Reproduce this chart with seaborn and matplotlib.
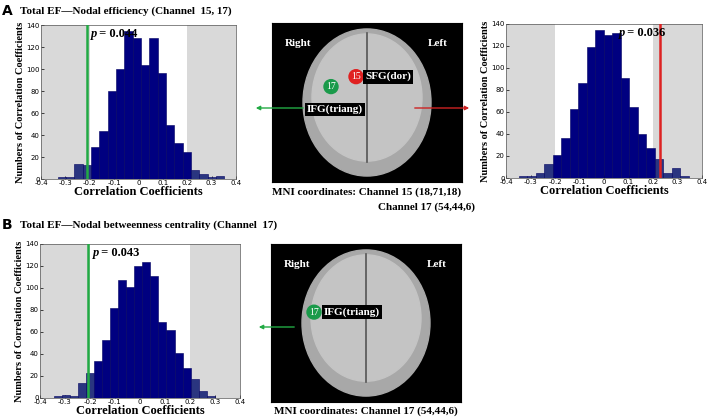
import matplotlib
matplotlib.use("Agg")
import matplotlib.pyplot as plt
import seaborn as sns
import numpy as np
import pandas as pd
from matplotlib.patches import Ellipse, Circle, FancyArrowPatch

# data
a1_start, a1_width = -0.332, 0.0342
a1_counts = [2, 2, 14, 13, 29, 44, 80, 100, 135, 128, 104, 128, 96, 49, 33, 25, 8, 5, 2, 3]
a1_line, a1_p = -0.21, "0.044"
a2_start, a2_width = -0.347, 0.0346
a2_counts = [2, 2, 5, 13, 21, 36, 63, 86, 119, 135, 130, 132, 91, 65, 40, 27, 17, 5, 9, 2]
a2_line, a2_p = 0.228, "0.036"
b_start, b_width = -0.345, 0.0322
b_counts = [2, 3, 2, 14, 23, 34, 53, 82, 107, 101, 120, 124, 111, 69, 62, 41, 27, 17, 6, 2]
b_line, b_p = -0.21, "0.043"
xticks = [-0.4, -0.3, -0.2, -0.1, 0, 0.1, 0.2, 0.3, 0.4]
yticks = [0, 20, 40, 60, 80, 100, 120, 140]

serif = "Liberation Serif"
W, H = 708, 420
fig = plt.figure(figsize=(7.08, 4.2), dpi=100)

def ax_px(x0, y0, x1, y1):
    return fig.add_axes([x0 / W, 1 - y1 / H, (x1 - x0) / W, (y1 - y0) / H])

def hist(ax, start, width, counts, line, lcolor, p, ptext_x):
    n = len(counts)
    edges = start + width * np.arange(n + 1)
    centers = (edges[:-1] + edges[1:]) / 2
    df = pd.DataFrame({"r": centers, "n": counts})
    ax.axvspan(-0.4, -0.2, color="#d9d9d9", zorder=0, lw=0)
    ax.axvspan(0.2, 0.4, color="#d9d9d9", zorder=0, lw=0)
    sns.histplot(data=df, x="r", weights="n", bins=list(edges), ax=ax, color="#000080",
                 alpha=1, edgecolor="#000060", linewidth=0.4, zorder=2)
    for patch in ax.patches:
        if patch.get_width() < 0.1:
            c = patch.get_x() + patch.get_width() / 2
            if abs(c) > 0.2:
                patch.set_facecolor("#2a3580")
    ax.axvline(line, color=lcolor, lw=1.8, zorder=3)
    ax.text(ptext_x, 137, "p", fontstyle="italic", fontweight="bold", fontfamily=serif,
            fontsize=9, va="top")
    ax.text(ptext_x + 0.022, 137, f" = {p}", fontweight="bold", fontfamily=serif,
            fontsize=9, va="top")
    ax.set_xlim(-0.4, 0.4)
    ax.set_ylim(0, 140)
    ax.set_xticks(xticks)
    ax.set_xticklabels([f"{t:g}" for t in xticks], fontsize=5)
    ax.set_yticks(yticks)
    ax.set_yticklabels([str(t) for t in yticks], fontsize=5)
    ax.tick_params(length=2, width=0.5, pad=1, direction="in")
    ax.set_xlabel("Correlation Coefficients", fontfamily=serif, fontweight="bold", fontsize=9, labelpad=0)
    ax.set_ylabel("Numbers of Correlation Coefficients", fontfamily=serif, fontweight="bold", fontsize=7.5, labelpad=1)
    for s in ax.spines.values():
        s.set_linewidth(0.5)
        s.set_color("#555555")

def brain(ax, regions):
    ax.set_facecolor("black")
    ax.set_xlim(0, 190); ax.set_ylim(0, 160)
    ax.set_xticks([]); ax.set_yticks([])
    ax.add_patch(Ellipse((95, 80), 128, 148, color="#a8a8a8", zorder=1))
    ax.add_patch(Ellipse((95, 85), 110, 128, color="#c4c4c4", zorder=1))
    ax.plot([95, 95], [20, 150], color="#555555", lw=1.2, zorder=2)
    ax.text(26, 137, "Right", color="white", fontfamily=serif, fontweight="bold", fontsize=8, ha="center")
    ax.text(166, 137, "Left", color="white", fontfamily=serif, fontweight="bold", fontsize=8, ha="center")
    for (cx, cy, num, col, lab, lx, ly) in regions:
        ax.add_patch(Circle((cx, cy), 7, color=col, zorder=4))
        ax.text(cx, cy, num, color="white", fontfamily=serif, fontsize=7, ha="center", va="center", zorder=5)
        ax.text(lx, ly, lab, color="white", fontfamily=serif, fontweight="bold", fontsize=8,
                va="center", zorder=5, bbox=dict(facecolor="black", edgecolor="none", pad=1.5))

hist(ax_px(41, 25, 236, 179), a1_start, a1_width, a1_counts, a1_line, "#22aa44", a1_p, -0.195)
hist(ax_px(506, 24, 702, 178), a2_start, a2_width, a2_counts, a2_line, "#dd2222", a2_p, 0.06)
hist(ax_px(40, 244, 240, 398), b_start, b_width, b_counts, b_line, "#22aa44", b_p, -0.19)

brain(ax_px(272, 23, 462, 182),
      [(59, 96, "17", "#1a9a4a", "IFG(triang)", 35, 73), (84, 106, "15", "#e02020", "SFG(dor)", 93, 106)])
brain(ax_px(271, 244, 461, 402),
      [(43, 91, "17", "#1a9a4a", "IFG(triang)", 53, 91)])

def arrow(x0, y0, x1, y1, col):
    fig.patches.append(FancyArrowPatch((x0 / W, 1 - y0 / H), (x1 / W, 1 - y1 / H), transform=fig.transFigure,
                                       arrowstyle="-|>", mutation_scale=6, color=col, lw=1))
arrow(306, 108, 253, 108, "#22aa44")
arrow(412, 108, 472, 108, "#cc2222")
arrow(297, 327, 256, 327, "#22aa44")

t = dict(fontfamily=serif, fontweight="bold", fontsize=8)
fig.text(2 / W, 1 - 11 / H, "A", fontsize=10, fontweight="bold", va="center")
fig.text(20 / W, 1 - 11 / H, "Total EF\u2014Nodal efficiency (Channel  15, 17)", va="center", **t)
fig.text(2 / W, 1 - 225 / H, "B", fontsize=10, fontweight="bold", va="center")
fig.text(20 / W, 1 - 225 / H, "Total EF\u2014Nodal betweenness centrality (Channel  17)", va="center", **t)
fig.text(367 / W, 1 - 192 / H, "MNI coordinates: Channel 15 (18,71,18)", ha="center", va="center", **t)
fig.text(378 / W, 1 - 207 / H, "Channel 17 (54,44,6)", ha="left", va="center", **t)
fig.text(366 / W, 1 - 411 / H, "MNI coordinates: Channel 17 (54,44,6)", ha="center", va="center", **t)

fig.savefig("out.png", dpi=100)
